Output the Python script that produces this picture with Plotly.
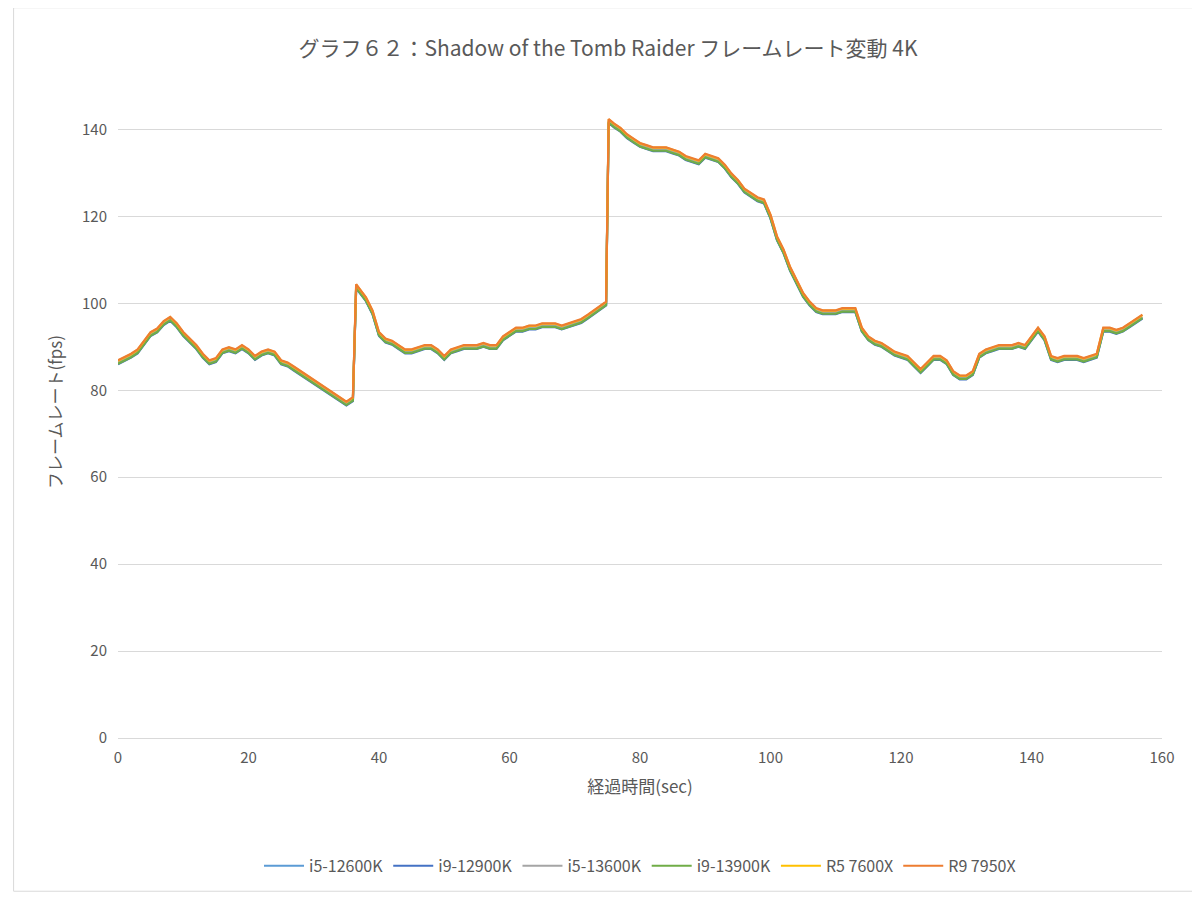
import plotly.graph_objects as go

t = [0,1,2,3,4,5,6,7,8,9,10,11,12,13,14,15,16,17,18,19,20,21,22,23,24,25,26,27,28,29,30,31,32,33,34,35,36,36.5,37,38,39,40,41,42,43,44,45,46,47,48,49,50,51,52,53,54,55,56,57,58,59,60,61,62,63,64,65,66,67,68,69,70,71,72,73,74,74.8,75.2,76,77,78,79,80,81,82,83,84,85,86,87,88,89,90,91,92,93,94,95,96,97,98,99,100,101,102,103,104,105,106,107,108,109,110,111,112,113,114,115,116,117,118,119,120,121,122,123,124,125,126,127,128,129,130,131,132,133,134,135,136,137,138,139,140,141,142,143,144,145,146,147,148,149,150,151,152,153,154,155,156,157]
base = [86.5,87.2,88,89,91,93,93.8,95.5,96.5,95,93,91.5,90,88,86.5,87,89,89.5,89,90,89,87.5,88.5,89,88.5,86.5,86,85,84,83,82,81,80,79,78,77,78,104,103,101,98,93,91.5,91,90,89,89,89.5,90,90,89,87.5,89,89.5,90,90,90,90.5,90,90,92,93,94,94,94.5,94.5,95,95,95,94.5,95,95.5,96,97,98,99,100,142,141,140,138.5,137.5,136.5,136,135.5,135.5,135.5,135,134.5,133.5,133,132.5,134,133.5,133,131.5,129.5,128,126,125,124,123.5,120,115,112,108,105,102,100,98.5,98,98,98,98.5,98.5,98.5,94,92,91,90.5,89.5,88.5,88,87.5,86,84.5,86,87.5,87.5,86.5,84,83,83,84,88,89,89.5,90,90,90,90.5,90,92,94,92,87.5,87,87.5,87.5,87.5,87,87.5,88,94,94,93.5,94,95,96,97]
names = ["i5-12600K","i9-12900K","i5-13600K","i9-13900K","R5 7600X","R9 7950X"]
offsets = [-0.3,-0.5,-0.1,-0.4,0.3,0.4]
colors = ["#5B9BD5","#4472C4","#A5A5A5","#70AD47","#FFC000","#ED7D31"]

fig = go.Figure()
for n, o, c in zip(names, offsets, colors):
    fig.add_trace(go.Scatter(x=t, y=[v + o for v in base], name=n, mode="lines",
                             line=dict(color=c, width=2.2)))
fig.update_layout(
    width=1200, height=897, paper_bgcolor="white", plot_bgcolor="white",
    font=dict(family="Noto Sans CJK JP", color="#595959", size=15),
    title=dict(text="グラフ６２：Shadow of the Tomb Raider フレームレート変動 4K", x=0.5, y=0.963,
               xanchor="center", font=dict(size=21, color="#595959")),
    margin=dict(l=110, r=46, t=78, b=167),
    xaxis=dict(range=[0,160], dtick=20, showgrid=False, showline=True, linecolor="#D9D9D9",
               ticks="", ticklabelstandoff=6, title=dict(text="経過時間(sec)", font=dict(size=17)), zeroline=False),
    yaxis=dict(range=[0,150], tickvals=[0,20,40,60,80,100,120,140], gridcolor="#D9D9D9",
               zeroline=False, ticks="", ticklabelstandoff=10,
               title=dict(text="フレームレート(fps)", font=dict(size=17))),
    legend=dict(orientation="h", x=0.5, xanchor="center", y=-0.17, yanchor="top",
                font=dict(size=16), itemwidth=40, tracegroupgap=0),
    shapes=[dict(type="rect", xref="paper", yref="paper", x0=-0.1, x1=1.032, y0=-0.235, y1=1.12,
                 line=dict(color="#D9D9D9", width=1))],
)
fig.write_html("out.html")
